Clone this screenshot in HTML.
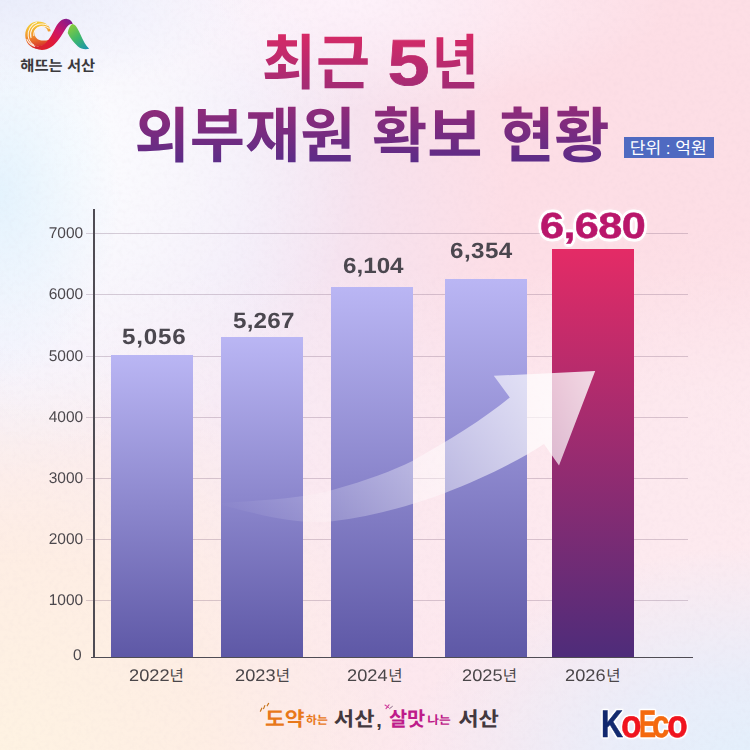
<!DOCTYPE html>
<html lang="ko">
<head>
<meta charset="utf-8">
<title>최근 5년 외부재원 확보 현황</title>
<style>
html,body{margin:0;padding:0;}
body{width:750px;height:750px;overflow:hidden;font-family:"Liberation Sans",sans-serif;text-rendering:geometricPrecision;}
#card{position:relative;width:750px;height:750px;overflow:hidden;background:
 radial-gradient(ellipse 250px 95px at 0px 0px, rgba(234,237,251,1) 0%, rgba(236,239,252,.55) 50%, rgba(236,238,252,0) 100%),
 radial-gradient(ellipse 120px 190px at 0px 195px, rgba(222,241,253,.78) 0%, rgba(226,243,254,0) 100%),
 radial-gradient(ellipse 300px 300px at 60px 150px, rgba(252,253,255,1) 0%, rgba(252,253,255,.6) 45%, rgba(252,253,255,0) 100%),
 radial-gradient(ellipse 420px 425px at 0px 770px, rgba(254,243,226,1) 0%, rgba(254,238,227,.95) 50%, rgba(254,238,228,0) 100%),
 radial-gradient(ellipse 370px 225px at 770px 770px, rgba(226,240,252,1) 0%, rgba(231,238,251,.88) 42%, rgba(232,238,251,0) 100%),
 radial-gradient(ellipse 330px 110px at 340px 0px, rgba(254,243,251,.95) 0%, rgba(254,243,251,0) 100%),
 radial-gradient(ellipse 400px 300px at 760px 520px, rgba(253,236,240,.55) 0%, rgba(253,236,240,.4) 45%, rgba(253,236,240,0) 100%),
 radial-gradient(ellipse 130px 130px at 0px 365px, rgba(243,240,253,.95) 0%, rgba(243,240,253,0) 100%),
 linear-gradient(180deg, rgba(253,237,243,0) 36%, rgba(253,237,243,.55) 54%, rgba(253,233,239,.9) 76%, rgba(253,232,238,.9) 100%),
 linear-gradient(90deg, #f4f1fb 0%, #f1e8f7 32%, #f8e1ec 52%, #fddee6 68%, #fddee5 100%);}
.abs{position:absolute;}
svg{position:absolute;left:0;top:0;overflow:visible;}
.grid{position:absolute;left:86px;width:602px;height:1px;background:rgba(120,90,120,.28);}
.ylab{position:absolute;left:30px;width:53.2px;text-align:right;font-size:15.5px;line-height:16px;color:#4c484d;transform-origin:100% 50%;transform:scaleX(1.001);}
.bar{position:absolute;width:82px;background:linear-gradient(180deg,#bab6f4 0%,#5e58a6 100%);}
.bar.hot{background:linear-gradient(180deg,#e42b66 0%,#4e2c7a 100%);}
.val{position:absolute;font-weight:bold;font-size:22px;line-height:24px;letter-spacing:.7px;transform-origin:0 0;transform:scaleX(1.1);color:#4b474f;white-space:nowrap;}
.val.hot{-webkit-text-stroke:.5px #b9176b;font-size:36px;line-height:40px;letter-spacing:-.5px;transform:scaleX(1.2);color:#b9176b;
  text-shadow:2.4px 0 0 #fff,-2.4px 0 0 #fff,0 2.8px 0 #fff,0 -2.8px 0 #fff,1.8px 2px 0 #fff,-1.8px 2px 0 #fff,1.8px -2px 0 #fff,-1.8px -2px 0 #fff,2.3px 1px 0 #fff,-2.3px 1px 0 #fff,2.3px -1px 0 #fff,-2.3px -1px 0 #fff,1px 2.6px 0 #fff,-1px 2.6px 0 #fff,1px -2.6px 0 #fff,-1px -2.6px 0 #fff,0 0 5px #fff,0 0 7px rgba(255,255,255,.8);}
.xlab{position:absolute;top:666px;font-size:16.8px;line-height:20px;color:#4a4649;white-space:nowrap;font-family:"Liberation Sans","Noto Sans CJK KR",sans-serif;}
.xlab span{display:inline-block;transform-origin:0 50%;transform:scaleX(1.085);margin-right:3.6px;}
.xlab .ny{font-style:normal;font-size:15.5px;color:#4a4649;}
#koeco{position:absolute;left:0;top:704.8px;width:750px;height:40px;font-weight:bold;font-size:38.5px;line-height:40px;-webkit-text-stroke-width:.5px;
 filter:drop-shadow(1px 0 0 #fff) drop-shadow(-1px 0 0 #fff) drop-shadow(0 1px 0 #fff) drop-shadow(0 -1px 0 #fff) drop-shadow(0 0 1px rgba(255,255,255,.9));}
#koeco span{position:absolute;top:0;transform-origin:0 0;}
</style>
</head>
<body>
<div id="card">

<!-- paper texture -->
<svg width="750" height="750" aria-hidden="true">
 <filter id="paper" x="0" y="0" width="100%" height="100%">
  <feTurbulence type="fractalNoise" baseFrequency="0.22" numOctaves="2" seed="7" result="n"/>
  <feColorMatrix type="matrix" values="0 0 0 0 0.45  0 0 0 0 0.35  0 0 0 0 0.45  0.9 0 0 0 -0.38"/>
 </filter>
 <rect width="750" height="750" filter="url(#paper)" opacity=".10"/>
</svg>

<!-- city logo -->
<svg width="750" height="750" role="img" aria-label="해뜨는 서산">
 <defs>
  <linearGradient id="lgSun" gradientUnits="userSpaceOnUse" x1="34" y1="21" x2="40" y2="49"><stop offset="0" stop-color="#f5d23c"/><stop offset=".22" stop-color="#f3bc34"/><stop offset=".5" stop-color="#f0902c"/><stop offset=".75" stop-color="#e2582a"/><stop offset="1" stop-color="#d0202e"/></linearGradient>
  <linearGradient id="lgRib" gradientUnits="userSpaceOnUse" x1="38" y1="50" x2="70" y2="19"><stop offset="0" stop-color="#d8242c"/><stop offset=".35" stop-color="#e01a38"/><stop offset=".62" stop-color="#cc1668"/><stop offset="1" stop-color="#7c1c90"/></linearGradient>
  <linearGradient id="lgGrn" gradientUnits="userSpaceOnUse" x1="70" y1="25" x2="88" y2="49"><stop offset="0" stop-color="#8ccc3c"/><stop offset=".5" stop-color="#3fb86a"/><stop offset="1" stop-color="#1a93b0"/></linearGradient>
 </defs>
 <g id="sunlogo">
  <path d="M50.7 31.2 C50 25.5 45 21.4 38 21.4 C30.6 21.4 25.2 27.4 25.2 35 C25.2 42.6 30.6 48.7 38 48.7 L48 47 L48 40 C46.4 40.6 43.6 40.6 41.6 40.4 C37.8 40.2 34.6 37.4 34.6 33.5 C34.6 29.6 37.8 26.6 41.6 26.6 C44.8 26.6 47.2 28.6 48 31.4 Z" fill="url(#lgSun)"/>
  <g fill="none" stroke="#fff8ee" stroke-opacity=".95" stroke-width="1.05" stroke-linecap="round">
   <path d="M47.5 25.2 C42 22.6 35 24 31.8 29.5 C30.4 32 30.2 35 31 37.6"/>
   <path d="M36.5 22.6 C31 24.4 27.6 30 28.2 36 C28.6 40 30.6 43 33.6 45"/>
   <path d="M27 39.5 C29 44 33.5 46.8 38.5 46.8 C41.5 46.8 44 46 46 44.5"/>
   <path d="M49.2 28.4 C46 25.8 41 25.4 37.6 27.8 C35 29.6 33.6 32.6 33.8 35.6"/>
  </g>
  <path d="M36 46 C45 48 50.5 37.5 54.5 29.5 C58.2 22.2 62 18.4 67 18.9 C70.2 19.3 72.2 21.4 72.8 24.2 C70.2 23.4 68 25 65.2 29.4 C61 36 57.2 43 51.2 47 C46 50.4 40.4 50.6 35.5 48.6 C34 47.8 34.4 46 36 46 Z" fill="url(#lgRib)"/>
  <path d="M72.2 24 C75.2 24 77.6 28 80.2 34 C83.2 41 86 46 89.2 48.8 C85 49.7 81 49 78 46.5 C74 43 70 38 67.7 33 C68.4 29 70 25.5 72.2 24 Z" fill="url(#lgGrn)"/>
 </g>
 <text x="20.3" y="70.5" font-family="Liberation Sans, Noto Sans CJK KR, sans-serif" font-weight="bold" font-size="15" fill="#3b393c" textLength="74.8" lengthAdjust="spacingAndGlyphs">해뜨는 서산</text>
</svg>

<!-- title -->
<svg width="750" height="750" role="img" aria-label="최근 5년 외부재원 확보 현황">
 <defs>
  <linearGradient id="lgTitle" gradientUnits="userSpaceOnUse" x1="0" y1="33" x2="0" y2="163"><stop offset="0" stop-color="#d72a66"/><stop offset="1" stop-color="#5b2c88"/></linearGradient>
 </defs>
 <g fill="url(#lgTitle)">
  <text x="261.8" y="84.4" font-family="Liberation Sans, Noto Sans CJK KR, sans-serif" font-weight="bold" font-size="60" textLength="108.2" lengthAdjust="spacingAndGlyphs">최근</text>
  <text x="432" y="84.4" font-family="Liberation Sans, Noto Sans CJK KR, sans-serif" font-weight="bold" font-size="60" textLength="46.5" lengthAdjust="spacingAndGlyphs">년</text>
  <text x="387.5" y="84.6" font-family="Liberation Sans, sans-serif" font-weight="bold" font-size="65.2" textLength="42.2" stroke="url(#lgTitle)" stroke-width=".7" lengthAdjust="spacingAndGlyphs">5</text>
  <text x="134.6" y="157.4" font-family="Liberation Sans, Noto Sans CJK KR, sans-serif" font-weight="bold" font-size="60" textLength="475" lengthAdjust="spacingAndGlyphs">외부재원 확보 현황</text>
 </g>
</svg>

<!-- unit badge -->
<div class="abs" style="left:624px;top:136.5px;width:89.5px;height:21.5px;background:#4f6ac1;"></div>
<svg width="750" height="750" role="img" aria-label="단위 : 억원">
 <text x="629.8" y="153.8" font-family="Liberation Sans, Noto Sans CJK KR, sans-serif" font-size="17" fill="#fff" textLength="76.8" lengthAdjust="spacingAndGlyphs">단위 : 억원</text>
</svg>

<!-- chart grid -->
<div class="grid" style="top:233px"></div>
<div class="grid" style="top:294px"></div>
<div class="grid" style="top:355.5px"></div>
<div class="grid" style="top:416.5px"></div>
<div class="grid" style="top:477.5px"></div>
<div class="grid" style="top:538.5px"></div>
<div class="grid" style="top:600px"></div>
<div class="ylab" style="top:226.3px">7000</div>
<div class="ylab" style="top:287.3px">6000</div>
<div class="ylab" style="top:348.8px">5000</div>
<div class="ylab" style="top:409.8px">4000</div>
<div class="ylab" style="top:470.8px">3000</div>
<div class="ylab" style="top:531.8px">2000</div>
<div class="ylab" style="top:593.3px">1000</div>
<div class="ylab" style="top:647.8px;width:51.6px">0</div>

<!-- bars -->
<div class="bar" style="left:111px;top:355px;height:302px"></div>
<div class="bar" style="left:221px;top:336.5px;height:320.5px"></div>
<div class="bar" style="left:331px;top:287px;height:370px"></div>
<div class="bar" style="left:444.5px;top:279px;height:378px"></div>
<div class="bar hot" style="left:552px;top:249px;height:408px"></div>

<!-- axes -->
<div class="abs" style="left:93.3px;top:209px;width:1.6px;height:449px;background:#4f4c54;"></div>
<div class="abs" style="left:91px;top:656.8px;width:602px;height:1.5px;background:#4f4c54;"></div>

<!-- arrow -->
<svg width="750" height="750" aria-hidden="true">
 <defs>
  <linearGradient id="lgArrow" gradientUnits="userSpaceOnUse" x1="215" y1="505" x2="590" y2="390"><stop offset="0" stop-color="#fff" stop-opacity="0"/><stop offset=".3" stop-color="#fff" stop-opacity=".2"/><stop offset=".65" stop-color="#fff" stop-opacity=".5"/><stop offset="1" stop-color="#fff" stop-opacity=".8"/></linearGradient>
 </defs>
 <path d="M216 503.5 C262 500 300 499 332.4 490 C368 480 392 471 412.4 461 C448 441 484 419 509.8 397.6 L493.8 375.8 L595.2 371 L559 465.6 L544 444 C520 460 480 480 444.8 493 C410 506 370 517 332.4 521.2 C300 524.5 262 516 216 503.5 Z" fill="url(#lgArrow)"/>
</svg>

<!-- value labels -->
<div class="val" style="left:121.6px;top:324.5px">5,056</div>
<div class="val" style="left:233px;top:309px;letter-spacing:.2px">5,267</div>
<div class="val" style="left:342.5px;top:253.5px;letter-spacing:0">6,104</div>
<div class="val" style="left:450.3px;top:239px;letter-spacing:.4px">6,354</div>
<div class="val hot" style="left:540px;top:205.5px">6,680</div>

<!-- x labels -->
<div class="xlab" style="left:128.6px"><span>2022</span><i class="ny">년</i></div>
<div class="xlab" style="left:234.8px"><span>2023</span><i class="ny">년</i></div>
<div class="xlab" style="left:347.4px"><span>2024</span><i class="ny">년</i></div>
<div class="xlab" style="left:461.8px"><span>2025</span><i class="ny">년</i></div>
<div class="xlab" style="left:565.2px"><span>2026</span><i class="ny">년</i></div>

<!-- slogan -->
<svg width="750" height="750" role="img" aria-label="도약하는 서산, 살맛나는 서산">
 <g fill="#e8781a" font-family="Liberation Sans, Noto Sans CJK KR, sans-serif" font-weight="bold">
  <text x="265" y="726.3" font-size="20" textLength="39.6" lengthAdjust="spacingAndGlyphs">도약</text>
  <text x="306" y="724.2" font-size="11.5" textLength="21.8" lengthAdjust="spacingAndGlyphs">하는</text>
  <path d="M260.4 711.2L261.8 708.2M263.6 708.6L264.8 705.6M267.2 705.8L268.6 703.4" fill="none" stroke="#c8741c" stroke-width="1.2" stroke-linecap="round"/></g>
 <g fill="#43383e" font-family="Liberation Sans, Noto Sans CJK KR, sans-serif" font-weight="bold">
  <text x="333.8" y="726.3" font-size="20" textLength="40.7" lengthAdjust="spacingAndGlyphs">서산</text>
  <text x="376.3" y="727.4" font-size="20">,</text>
  <text x="458.2" y="726.3" font-size="20" textLength="40.7" lengthAdjust="spacingAndGlyphs">서산</text>
 </g>
 <g fill="#be1c8a" font-family="Liberation Sans, Noto Sans CJK KR, sans-serif" font-weight="bold">
  <text x="388.9" y="726.3" font-size="20" textLength="36.4" lengthAdjust="spacingAndGlyphs">살맛</text>
  <text x="427.2" y="724.2" font-size="11.5" textLength="23.5" lengthAdjust="spacingAndGlyphs">나는</text>
  <path d="M385 705L388.6 707.4M386 708.6L389 704.8" fill="none" stroke="#d0409c" stroke-width="1.1" stroke-linecap="round"/><path d="M389.6 708.6L392.4 706.4" fill="none" stroke="#8a6a86" stroke-width="1" stroke-linecap="round"/></g>
</svg>

<!-- KoEco -->
<div id="koeco"><span style="left:600.9px;transform:scaleX(.79);color:#12296e">K</span><span style="left:620.8px;transform:scaleX(.875);color:#f0141e">o</span><span style="left:638.6px;transform:scaleX(.665);color:#f4690f">E</span><span style="left:652.2px;transform:scaleX(.815);color:#f4690f">c</span><span style="left:666.8px;transform:scaleX(.885);color:#f0141e">o</span></div>

</div>
</body>
</html>
